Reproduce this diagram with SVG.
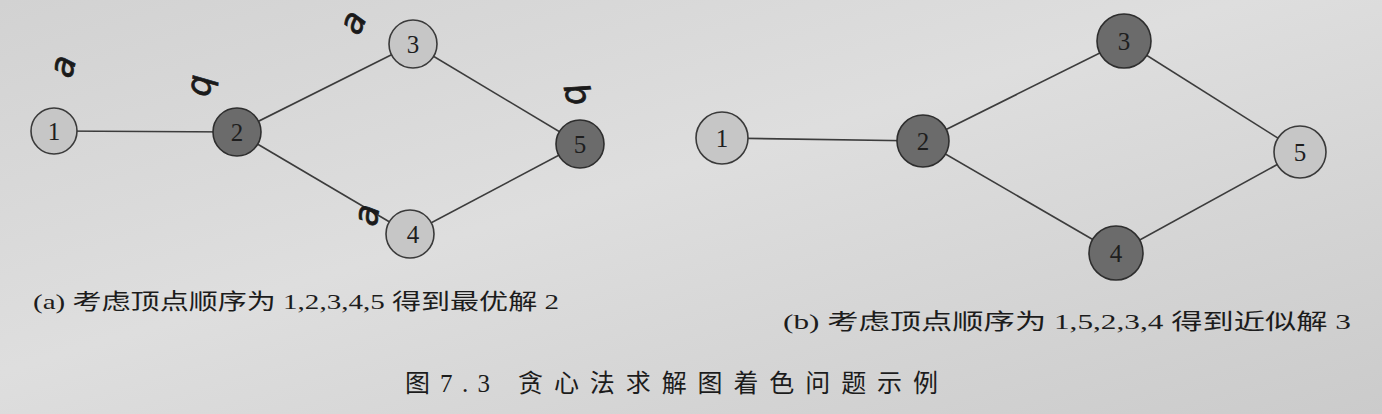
<svg xmlns="http://www.w3.org/2000/svg" width="1382" height="414" viewBox="0 0 1382 414">
<defs>
<linearGradient id="bg" x1="0" y1="0" x2="1" y2="1">
<stop offset="0" stop-color="#d2d2d2"/>
<stop offset="0.45" stop-color="#dedede"/>
<stop offset="1" stop-color="#cbcbcb"/>
</linearGradient>
<style>
.edge{stroke:#3c3c3c;stroke-width:1.6;fill:none}
.light{fill:#c6c6c6;stroke:#3a3a3a;stroke-width:1.6}
.dark{fill:#6b6b6b;stroke:#2e2e2e;stroke-width:1.6}
.lbl{font-family:"Liberation Serif","Noto Sans CJK SC",serif;font-size:25px;fill:#1e1e1e;text-anchor:middle;dominant-baseline:central}
.cap{font-family:"Liberation Serif","Noto Sans CJK SC",serif;font-size:22px;fill:#1c1c1c}
.fig{font-family:"Liberation Serif","Noto Sans CJK SC",serif;font-size:25px;fill:#1c1c1c}
.hand{font-family:"DejaVu Sans",sans-serif;font-size:34px;fill:#1a1a1a;stroke:#1a1a1a;stroke-width:0.8;font-style:italic;text-anchor:middle;dominant-baseline:central}
</style>
</defs>
<rect width="1382" height="414" fill="url(#bg)"/>
<g id="connectors">
<line class="edge" x1="54" y1="131" x2="237" y2="132"/>
<line class="edge" x1="237" y1="132" x2="413" y2="44"/>
<line class="edge" x1="237" y1="132" x2="410" y2="234"/>
<line class="edge" x1="413" y1="44" x2="580" y2="144"/>
<line class="edge" x1="410" y1="234" x2="580" y2="144"/>
<line class="edge" x1="722" y1="138" x2="923" y2="141"/>
<line class="edge" x1="923" y1="141" x2="1124" y2="41"/>
<line class="edge" x1="923" y1="141" x2="1116" y2="253"/>
<line class="edge" x1="1124" y1="41" x2="1300" y2="152"/>
<line class="edge" x1="1116" y1="253" x2="1300" y2="152"/>
</g>
<g id="a1"><circle class="light" cx="54" cy="131" r="23"/><text class="lbl" x="54" y="131">1</text></g>
<g id="a2"><circle class="dark" cx="237" cy="132" r="24"/><text class="lbl" x="237" y="132">2</text></g>
<g id="a3"><circle class="light" cx="413" cy="44" r="24"/><text class="lbl" x="413" y="44">3</text></g>
<g id="a4"><circle class="light" cx="410" cy="234" r="24"/><text class="lbl" x="413" y="234">4</text></g>
<g id="a5"><circle class="dark" cx="580" cy="144" r="24"/><text class="lbl" x="580" y="144">5</text></g>
<g id="b1"><circle class="light" cx="722" cy="138" r="26"/><text class="lbl" x="722" y="138">1</text></g>
<g id="b2"><circle class="dark" cx="923" cy="141" r="26"/><text class="lbl" x="923" y="141">2</text></g>
<g id="b3"><circle class="dark" cx="1124" cy="41" r="27"/><text class="lbl" x="1124" y="41">3</text></g>
<g id="b4"><circle class="dark" cx="1116" cy="253" r="27"/><text class="lbl" x="1116" y="253">4</text></g>
<g id="b5"><circle class="light" cx="1300" cy="152" r="26"/><text class="lbl" x="1300" y="152">5</text></g>
<g id="handwriting">
<text class="hand" transform="translate(62,66) rotate(-75)">a</text>
<text class="hand" transform="translate(204,86) rotate(95)">b</text>
<text class="hand" transform="translate(352,22) rotate(-65)">a</text>
<text class="hand" transform="translate(578,94) rotate(75)">b</text>
<text class="hand" transform="translate(366,215) rotate(-80)">a</text>
</g>
<g id="captions">
<text class="cap" x="33" y="309" textLength="526" lengthAdjust="spacingAndGlyphs">(a) 考虑顶点顺序为 1,2,3,4,5 得到最优解 2</text>
<text class="cap" x="783" y="329" textLength="568" lengthAdjust="spacingAndGlyphs">(b) 考虑顶点顺序为 1,5,2,3,4 得到近似解 3</text>
<text class="fig" x="405" y="392">图</text>
<text class="fig" x="440" y="392" textLength="50" lengthAdjust="spacing">7.3</text>
<text class="fig" x="518" y="392" textLength="420" lengthAdjust="spacing">贪心法求解图着色问题示例</text>
</g>
</svg>
